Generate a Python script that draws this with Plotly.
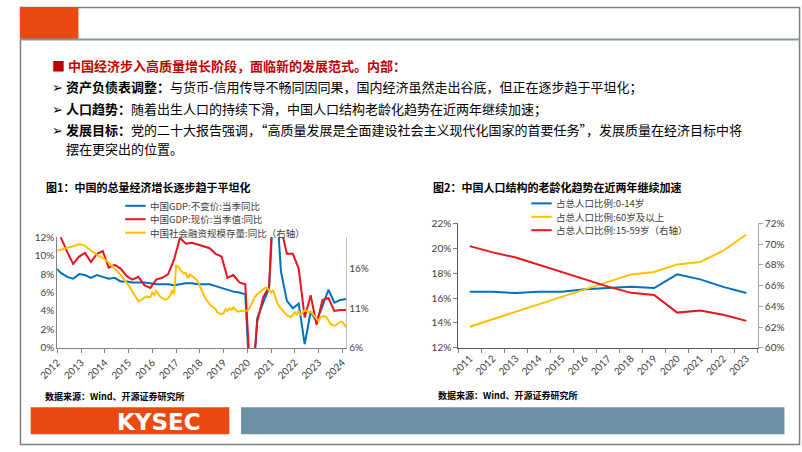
import pandas as pd
import plotly.graph_objects as go

W, H = 802, 452
def px(x): return x / W
def py(y): return 1 - y / H

# ---------------- Chart 1 data ----------------
gdp_real_name = "中国GDP:不变价:当季同比"
gdp_nom_name = "中国GDP:现价:当季值:同比"
tsf_name = "中国社会融资规模存量:同比（右轴）"

quarter_dates = pd.date_range("2011-12-01", periods=50, freq="3MS")
gdp_real = [8.7,
            8.1, 7.7, 7.5, 8.0,
            7.9, 7.6, 7.9, 7.7,
            7.5, 7.6, 7.2, 7.2,
            7.1, 7.1, 7.1, 7.0,
            6.9, 6.9, 6.9, 6.8,
            6.9, 7.0, 7.0, 6.9,
            6.9, 6.9, 6.7, 6.5,
            6.3, 6.1, 6.0, 5.8,
            -6.8, 3.2, 4.9, 6.5,
            18.3, 8.3, 5.1, 4.3,
            4.8, 0.4, 3.9, 2.9,
            4.5, 6.3, 4.9, 5.2,
            5.3]
gdp_nominal = [16.0,
               11.9, 10.4, 9.1, 9.9,
               10.3, 9.3, 10.2, 10.5,
               8.7, 9.0, 8.6, 7.8,
               7.4, 7.7, 6.8, 6.5,
               7.4, 7.6, 8.0, 9.6,
               11.9, 11.3, 11.4, 11.2,
               11.0, 10.8, 10.2, 9.9,
               7.6, 7.9, 7.1, 6.9,
               -5.3, 2.8, 5.5, 6.6,
               21.2, 13.0, 10.2, 10.2,
               8.6, 3.3, 5.7, 2.5,
               5.2, 5.4, 4.0, 4.1,
               4.1]

month_dates = pd.date_range("2011-12-01", periods=148, freq="MS")
tsf_yoy = [18.3,
           18.3, 18.4, 18.4, 18.5, 18.6, 18.7, 18.7, 18.8, 18.9, 19.0, 19.0, 19.1,
           19.1, 19.0, 18.9, 18.7, 18.5, 18.3, 18.1, 17.9, 17.8, 17.6, 17.5, 17.4,
           17.2, 17.0, 16.8, 16.6, 16.3, 16.0, 15.8, 15.5, 15.2, 14.9, 14.6, 14.3,
           13.9, 13.5, 13.1, 12.7, 12.3, 11.9, 12.0, 12.2, 12.4, 12.5, 12.4, 12.4,
           13.0, 12.7, 13.2, 12.8, 12.5, 12.3, 12.2, 12.1, 12.3, 12.6, 13.3, 12.8,
           16.4, 16.3, 15.9, 15.7, 15.4, 15.5, 14.8, 15.3, 15.1, 15.0, 14.7, 14.4,
           13.8, 13.3, 12.7, 12.2, 11.9, 11.5, 11.3, 11.1, 10.9, 10.5, 10.3, 10.3,
           10.4, 10.9, 10.7, 11.0, 10.8, 11.1, 10.8, 10.6, 10.6, 10.7, 10.7, 10.7,
           10.7, 11.0, 11.5, 12.0, 12.5, 12.8, 13.0, 13.3, 13.5, 13.6, 13.6, 13.3,
           13.0, 13.3, 12.5, 11.8, 11.3, 11.0, 10.7, 10.4, 10.1, 10.0, 9.9, 10.2,
           10.5, 10.2, 10.6, 10.2, 10.5, 10.8, 10.7, 10.5, 10.6, 10.3, 10.0, 9.6,
           9.4, 9.9, 10.0, 10.0, 9.9, 9.5, 9.0, 8.9, 8.8, 8.9, 9.1, 9.3,
           9.3, 9.0, 8.6]
right1_ticks = [6, 11, 16]

# ---------------- Chart 2 data ----------------
years = [str(y) for y in range(2011, 2024)]
pop_0_14_name = "占总人口比例:0-14岁"
pop_60_name = "占总人口比例:60岁及以上"
pop_15_59_name = "占总人口比例:15-59岁（右轴）"
pop_0_14 = [16.5, 16.5, 16.4, 16.5, 16.5, 16.7, 16.8, 16.9, 16.8, 17.9, 17.5, 16.9, 16.4]
pop_60 = [13.7, 14.3, 14.9, 15.5, 16.1, 16.7, 17.3, 17.9, 18.1, 18.7, 18.9, 19.8, 21.1]
pop_15_59 = [69.8, 69.2, 68.7, 68.0, 67.3, 66.6, 65.9, 65.3, 65.1, 63.4, 63.6, 63.2, 62.6]

BLUE = "#0070C0"
RED = "#E8141E"
YELLOW = "#FFC000"
CJK = "Noto Sans CJK SC"
NUM = "Lato"
TICKC = "#404040"

fig = go.Figure()
fig.add_trace(go.Scatter(x=quarter_dates, y=gdp_real, mode="lines", name=gdp_real_name,
                         line=dict(color=BLUE, width=2), xaxis="x", yaxis="y"))
fig.add_trace(go.Scatter(x=quarter_dates, y=gdp_nominal, mode="lines", name=gdp_nom_name,
                         line=dict(color=RED, width=2), xaxis="x", yaxis="y"))
fig.add_trace(go.Scatter(x=month_dates, y=tsf_yoy, mode="lines", name=tsf_name,
                         line=dict(color=YELLOW, width=2), xaxis="x", yaxis="y2"))

fig.add_trace(go.Scatter(x=years, y=pop_0_14, mode="lines", name=pop_0_14_name,
                         line=dict(color=BLUE, width=2), xaxis="x2", yaxis="y3"))
fig.add_trace(go.Scatter(x=years, y=pop_60, mode="lines", name=pop_60_name,
                         line=dict(color=YELLOW, width=2), xaxis="x2", yaxis="y3"))
fig.add_trace(go.Scatter(x=years, y=pop_15_59, mode="lines", name=pop_15_59_name,
                         line=dict(color=RED, width=2), xaxis="x2", yaxis="y4"))

c1 = dict(x0=38.3, x1=335, y0=237, y1=351)
c2 = dict(x0=450, x1=757.7, y0=222.7, y1=351)
tickfont = dict(family=NUM, size=10, color=TICKC)

fig.update_layout(
    width=W, height=H, autosize=False,
    margin=dict(l=0, r=0, t=0, b=0),
    paper_bgcolor="white", plot_bgcolor="rgba(0,0,0,0)",
    showlegend=False,
    font=dict(family=CJK, size=11, color="#000"),
    xaxis=dict(domain=[px(c1["x0"]), px(c1["x1"])], anchor="y", type="date",
               range=["2012-01-01", "2024-03-01"], tick0="2012-01-01", dtick="M12",
               tickformat="%Y", tickangle=-45, ticks="outside", ticklen=4,
               tickcolor="#808080", showline=True, linecolor="#808080", linewidth=1,
               showgrid=False, zeroline=False, tickfont=tickfont),
    yaxis=dict(domain=[py(c1["y1"]), py(c1["y0"])], anchor="x", range=[0, 12], dtick=2,
               ticksuffix="%", showline=True, linecolor="#808080", linewidth=1,
               showgrid=False, zeroline=False, ticks="", tickfont=tickfont),
    yaxis2=dict(overlaying="y", side="right", anchor="x", range=[6, 20],
                tickmode="array", tickvals=right1_ticks,
                ticktext=[f"{v}%" for v in right1_ticks], showline=True, linecolor="#BFBFBF",
                showgrid=False, zeroline=False, ticks="", tickfont=tickfont),
    xaxis2=dict(domain=[px(c2["x0"]), px(c2["x1"])], anchor="y3", type="category",
                range=[-0.5, 12.5], tickson="boundaries", ticks="outside", ticklen=4,
                tickcolor="#808080", tickangle=-45, showline=True, linecolor="#595959",
                showgrid=False, zeroline=False, tickfont=tickfont),
    yaxis3=dict(domain=[py(c2["y1"]), py(c2["y0"])], anchor="x2", range=[12, 22], dtick=2,
                ticksuffix="%", ticks="outside", ticklen=4, tickcolor="#808080",
                showline=True, linecolor="#595959", showgrid=False, zeroline=False,
                tickfont=tickfont),
    yaxis4=dict(overlaying="y3", side="right", anchor="x2", range=[60, 72], dtick=2,
                ticksuffix="%", ticks="outside", ticklen=4, tickcolor="#A6A6A6",
                showline=True, linecolor="#A6A6A6", showgrid=False, zeroline=False,
                tickfont=tickfont),
)

shapes = []
annos = []

def rect(x0, y0, x1, y1, fill=None, line=None, lw=0):
    shapes.append(dict(type="rect", xref="paper", yref="paper", x0=px(x0), x1=px(x1),
                       y0=py(y1), y1=py(y0), fillcolor=fill if fill else "rgba(0,0,0,0)",
                       line=dict(color=line if line else "rgba(0,0,0,0)", width=lw),
                       layer="below"))

def hline(x0, x1, y, color, w):
    shapes.append(dict(type="line", xref="paper", yref="paper", x0=px(x0), x1=px(x1),
                       y0=py(y), y1=py(y), line=dict(color=color, width=w)))

def text(s, x, y, size, color="#000", family=CJK, xanchor="left", pad=0):
    annos.append(dict(text=s, x=px(x), y=py(y), xref="paper", yref="paper",
                      xanchor=xanchor, yanchor="middle", showarrow=False, align="left",
                      borderpad=pad,
                      font=dict(family=family, size=size, color=color)))

# slide frame and header
rect(0.5, 0.5, 800.5, 450.5, line="#7F7F7F", lw=1.5)
rect(0, 0, 60, 33, fill="#E84A12")
hline(0, 801, 33.5, "#8497A6", 2)

# footer
rect(11, 412, 215, 440, fill="#E84A12")
rect(227, 412, 785, 440, fill="#6E90A5")
text("<b>KYSEC</b>", 143, 427, 23, color="white", family="DejaVu Sans", xanchor="center")

# body text
text("<b>■ 中国经济步入高质量增长阶段，面临新的发展范式。内部：</b>", 32, 60, 13, color="#C00000")
text("➢ <b>资产负债表调整：</b>与货币-信用传导不畅同因同果，国内经济虽然走出谷底，但正在逐步趋于平坦化；", 32, 82, 13)
text("➢ <b>人口趋势：</b>随着出生人口的持续下滑，中国人口结构老龄化趋势在近两年继续加速；", 32, 105, 13)
text("➢ <b>发展目标：</b>党的二十大报告强调，“高质量发展是全面建设社会主义现代化国家的首要任务”，发展质量在经济目标中将", 32, 126.5, 13)
text("<span style='color:rgba(0,0,0,0)'>➢ </span>摆在更突出的位置。", 32, 146, 13)

# chart titles
text("<b>图1：中国的总量经济增长逐步趋于平坦化</b>", 26, 185, 11)
text("<b>图2：中国人口结构的老龄化趋势在近两年继续加速</b>", 423, 185, 11)

# legends (drawn manually: line sample + text per entry)
LEG = 9.5
step = 13.8
y_mid1 = 218.5
for i, (name, col) in enumerate([(gdp_real_name, BLUE), (gdp_nom_name, RED), (tsf_name, YELLOW)]):
    yy = y_mid1 + (i - 1) * step
    hline(108, 129, yy, col, 2)
    text(name, 132, yy, LEG, color=TICKC)

y_mid2 = 216
for i, (name, col) in enumerate([(pop_0_14_name, BLUE), (pop_60_name, YELLOW), (pop_15_59_name, RED)]):
    yy = y_mid2 + (i - 1) * step
    hline(525, 546, yy, col, 2)
    text(name, 549, yy, LEG, color=TICKC)

# sources
text("<b>数据来源：Wind、开源证券研究所</b>", 25, 401, 9)
text("<b>数据来源：Wind、开源证券研究所</b>", 428, 400, 9)

fig.update_layout(shapes=shapes, annotations=annos)
fig.write_html("out.html")
